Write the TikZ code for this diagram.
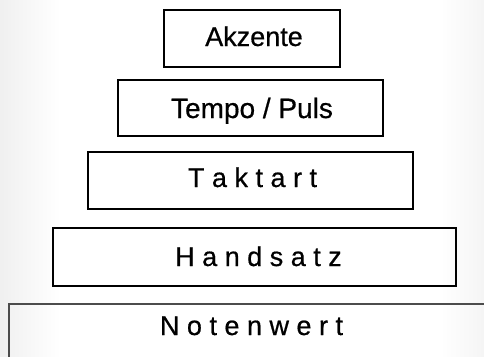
\documentclass[tikz,border=0pt]{standalone}
\usepackage{fontspec}
\setmainfont{Liberation Sans}[FakeBold=0.6]
\begin{document}
\begin{tikzpicture}[x=1pt,y=-1pt,
  box/.style={draw=black, line width=2pt, inner sep=0pt, minimum height=57pt},
  lbl/.style={font=\fontsize{27}{30}\selectfont, anchor=base, inner sep=0pt}]
\useasboundingbox (0,0) rectangle (484,356);
\clip (0,0) rectangle (484,356);
\shade[left color=black!6, right color=white] (0,0) rectangle (60,356);
\shade[left color=white, right color=black!4] (440,0) rectangle (484,356);
% boxes
\node[box, minimum width=176pt] (akz) at (252,38.5) {};
\node[box, minimum width=265pt, minimum height=56.5pt] (tempo) at (250,107.8) {};
\node[box, minimum width=325pt, minimum height=57.6pt] (takt) at (250.5,180.5) {};
\node[box, minimum width=403pt, minimum height=58pt] (hand) at (254.8,256.7) {};
\node[box, draw=black!70, line width=1.6pt, minimum width=520pt, minimum height=90pt, anchor=north west] (noten) at (8,303) {};
% labels
\node[lbl] (takz) at (254,46) {Akzente};
\node[lbl, font=\fontsize{28}{30}\selectfont] (ttempo) at (252,118) {Tempo / Puls};
\node[lbl] (ttakt) at (252.5,187) {T a k t a r t};
\node[lbl] (thand) at (258.5,266) {H a n d s a t z};
\node[lbl] (tnoten) at (251.5,335) {N o t e n w e r t};
\end{tikzpicture}
\end{document}
